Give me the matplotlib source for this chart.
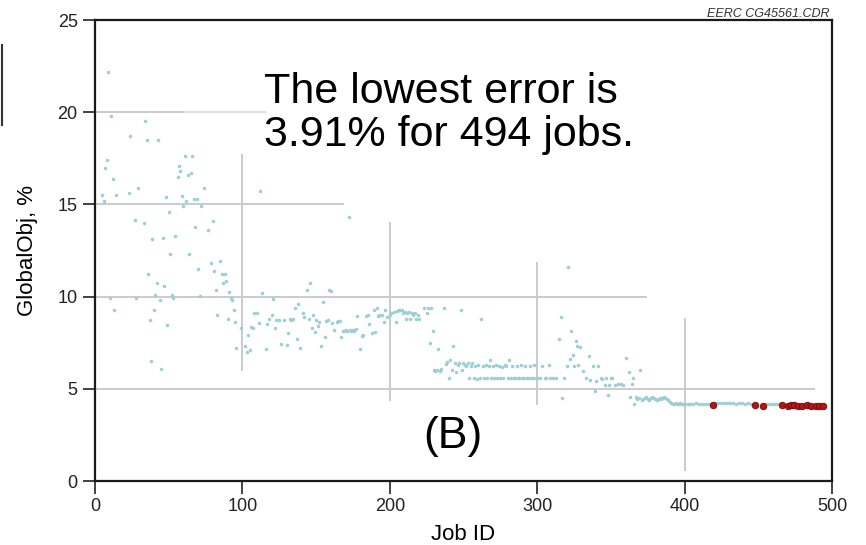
import matplotlib.pyplot as plt
from matplotlib.lines import Line2D

plt.rcParams["font.family"] = ["Liberation Sans", "DejaVu Sans"]

# -----------------------
# Data
# -----------------------
jobs_a = [5, 6, 7, 8, 9, 10, 11, 12, 13, 14, 23, 24, 27, 28, 29, 33, 34, 35, 36, 37,
          38, 39, 40, 41, 42, 43, 44, 45, 46, 47, 48, 49, 50, 51, 52, 53, 54, 56, 57, 58,
          59, 60, 61, 62, 63, 64, 65, 66, 67, 68, 69, 70, 71, 72, 74, 77, 79, 80, 81, 82,
          83, 85, 86, 87, 88, 89, 90, 91, 92, 93, 94, 95, 96, 99]
vals_a = [15.5, 15.2, 17.0, 17.4, 22.2, 9.95, 19.8, 16.4, 9.3, 15.5, 15.6, 18.7, 14.15, 9.95, 15.9,
          14.0, 19.5, 18.5, 11.2, 8.75, 6.5, 13.1, 9.3, 10.1, 10.75, 18.5, 9.8, 6.05, 13.2, 10.6,
          15.4, 8.45, 14.6, 12.3, 10.1, 9.95, 13.3, 16.5, 17.1, 16.8, 15.45, 14.9, 17.6, 15.2, 16.6,
          12.3, 16.7, 17.6, 15.3, 13.8, 15.3, 11.5, 10.05, 14.9, 15.9, 13.6, 11.8, 14.1, 11.4, 10.35,
          9.0, 11.95, 11.2, 10.75, 11.2, 10.85, 8.8, 10.25, 9.9, 9.8, 9.3, 8.6, 7.2, 8.3]

jobs_b = [102, 103, 104, 105, 106, 107, 108, 110, 111, 112, 113, 116, 117, 118, 120, 121, 122, 123,
          125, 126, 128, 130, 131, 132, 133, 134, 136, 137, 138, 139, 141, 142, 144, 145, 146, 147,
          148, 149, 150, 151, 152, 153, 155, 156, 157, 158, 159, 160, 161, 162, 164, 165, 166, 167,
          168, 169, 170, 171, 172, 173, 174, 175, 176, 177, 178, 180, 181, 182, 184, 185, 186, 188,
          189, 190, 191, 192, 193, 195, 196, 197, 198, 200]
vals_b = [7.3, 7.0, 7.9, 7.1, 8.35, 8.3, 9.1, 9.1, 8.55, 15.75, 10.2, 7.15, 8.5, 8.77, 9.0, 9.85,
          8.3, 8.73, 8.75, 7.45, 8.73, 7.4, 8.05, 8.8, 8.73, 8.8, 9.4, 7.68, 9.6, 7.2, 9.1, 8.9,
          10.35, 8.8, 10.75, 8.3, 9.0, 8.07, 8.75, 8.4, 8.6, 7.3, 9.7, 7.8, 8.7, 8.73, 10.35, 10.3,
          8.55, 8.2, 8.6, 8.7, 8.7, 7.83, 8.15, 8.15, 8.2, 8.15, 14.3, 8.2, 8.15, 8.2, 8.15, 8.24,
          8.95, 7.15, 7.86, 7.9, 8.97, 9.0, 8.5, 8.0, 9.3, 8.06, 9.37, 8.97, 9.0, 9.0, 8.6, 9.3,
          8.9, 9.0]

jobs_c = [201, 203, 204, 205, 206, 207, 208, 209, 210, 211, 212, 213, 214, 215, 216, 217, 218, 219,
          220, 223, 225, 226, 227, 228, 229, 230, 231, 232, 233, 234, 235, 237, 238, 239, 240, 241,
          242, 243, 244, 245, 246, 247, 248, 249, 250, 251, 252, 253, 254, 255, 256, 257, 258, 259,
          260, 261, 262, 263, 264, 265, 266, 267, 268, 269, 270, 271, 272, 273, 274, 275, 276, 277,
          278, 279, 280, 281, 282, 283, 284, 285, 286, 287, 288, 289, 290, 291, 292, 293, 294, 295,
          296, 297, 298, 299, 300]
vals_c = [9.1, 9.15, 8.64, 9.2, 9.27, 9.25, 9.27, 9.1, 9.15, 8.8, 9.1, 9.15, 8.8, 9.1, 9.0, 9.1,
          8.8, 9.0, 8.8, 9.36, 9.13, 9.4, 7.47, 9.36, 8.15, 6.0, 5.97, 6.0, 7.15, 5.97, 6.1, 9.36,
          6.35, 6.47, 5.57, 6.55, 6.0, 7.3, 6.4, 5.9, 6.3, 6.4, 9.3, 6.0, 6.4, 6.3, 6.24, 6.4, 5.6,
          6.24, 6.4, 5.57, 6.24, 5.53, 6.3, 5.57, 8.77, 6.24, 5.57, 6.3, 5.6, 6.24, 6.56, 5.57, 6.24,
          5.57, 6.3, 5.6, 6.24, 5.57, 6.2, 5.57, 6.3, 6.24, 5.57, 6.56, 5.57, 6.24, 5.6, 5.57, 6.24,
          5.57, 5.57, 6.3, 5.57, 5.6, 6.24, 5.57, 5.57, 6.24, 5.6, 5.57, 6.3, 5.57, 5.57]

jobs_d = [302, 303, 305, 306, 308, 309, 311, 313, 315, 316, 317, 318, 320, 321, 322, 323, 324, 325,
          326, 327, 328, 329, 331, 333, 335, 336, 338, 339, 340, 341, 343, 344, 346, 347, 348, 349,
          350, 351, 353, 355, 357, 358, 360, 362, 363, 364, 365, 366, 367, 368, 369, 370, 371, 372,
          373, 374, 375, 376, 377, 378, 379, 380, 381, 382, 383, 384, 385, 386, 387, 388, 389, 390,
          391, 392, 393, 394, 395, 396, 397, 398, 399, 400]
vals_d = [5.6, 6.24, 5.57, 5.6, 6.3, 5.57, 5.57, 5.6, 7.68, 8.9, 4.5, 5.57, 6.24, 11.6, 6.6, 8.13,
          6.85, 6.24, 7.6, 7.3, 6.3, 7.28, 5.97, 5.57, 6.78, 5.5, 6.24, 4.9, 5.42, 6.24, 5.57, 5.55,
          5.2, 5.57, 4.66, 5.2, 5.57, 5.57, 5.2, 5.24, 5.24, 5.2, 6.65, 5.93, 4.57, 5.25, 5.57, 4.2,
          4.57, 4.45, 4.5, 6.02, 4.4, 4.45, 4.5, 4.55, 4.45, 4.4, 4.5, 4.55, 4.5, 4.45, 4.4, 4.45,
          4.5, 4.45, 4.5, 4.55, 4.5, 4.45, 4.4, 4.3, 4.25, 4.2, 4.2, 4.22, 4.2, 4.2, 4.22, 4.2, 4.2,
          4.2]

jobs_e = [402, 404, 406, 408, 410, 412, 414, 416, 418, 421, 423, 425, 427, 429, 431, 433, 435, 437,
          439, 441, 443, 445, 455, 457, 459, 461, 463]
vals_e = [4.2, 4.18, 4.2, 4.22, 4.18, 4.2, 4.2, 4.18, 4.2, 4.22, 4.25, 4.22, 4.25, 4.22, 4.25,
          4.22, 4.2, 4.22, 4.25, 4.2, 4.22, 4.2, 4.2, 4.18, 4.2, 4.2, 4.18]

# best jobs (red)
best_jobs = [419, 448, 453, 466, 470, 472, 474, 477, 480, 483, 486, 489, 491, 494]
best_vals = [4.1, 4.1, 4.08, 4.1, 4.08, 4.1, 4.1, 4.08, 4.08, 4.1, 4.08, 4.08, 4.08, 4.06]

x_ticks = [0, 100, 200, 300, 400, 500]
y_ticks = [0, 5, 10, 15, 20, 25]

# -----------------------
# Plot
# -----------------------
fig = plt.figure(figsize=(8.66, 5.45), dpi=100)
ax = fig.add_axes([0.1097, 0.1174, 0.851, 0.8459])

grid_c = "#cbcbcb"
# partial grid lines as drawn in the original
ax.plot([0, 115], [20, 20], color="#dedede", lw=1.4, zorder=1)
ax.plot([0, 60], [20, 20], color=grid_c, lw=1.4, zorder=1)
ax.plot([0, 168], [15, 15], color=grid_c, lw=1.4, zorder=1)
ax.plot([0, 374], [10, 10], color=grid_c, lw=1.4, zorder=1)
ax.plot([0, 488], [5, 5], color=grid_c, lw=1.4, zorder=1)
ax.plot([100, 100], [6.0, 17.7], color=grid_c, lw=1.4, zorder=1)
ax.plot([200, 200], [4.4, 14.0], color=grid_c, lw=1.4, zorder=1)
ax.plot([300, 300], [4.2, 11.8], color=grid_c, lw=1.4, zorder=1)
ax.plot([400, 400], [0.6, 8.8], color=grid_c, lw=1.4, zorder=1)

cyan = "#95d6db"
for jj, vv in [(jobs_a, vals_a), (jobs_b, vals_b), (jobs_c, vals_c),
               (jobs_d, vals_d), (jobs_e, vals_e)]:
    ax.scatter(jj, vv, s=5, color=cyan, edgecolors="#a9c4c6", linewidths=0.3, zorder=3)

ax.scatter(best_jobs, best_vals, s=22, color="#b51515", edgecolors="#6a0a0a",
           linewidths=0.6, zorder=4)

ax.text(0.229, 0.888, "The lowest error is\n3.91% for 494 jobs.", transform=ax.transAxes,
        fontsize=31, va="top", ha="left", color="black", linespacing=1.12)
ax.text(243, 2.4, "(B)", fontsize=32, ha="center", va="center")

ax.set_xlim(0, 500)
ax.set_ylim(0, 25)
ax.set_xticks(x_ticks)
ax.set_yticks(y_ticks)
ax.tick_params(direction="out", length=9, width=1.2, labelsize=13, colors="#222222")
for s in ax.spines.values():
    s.set_linewidth(1.6)
    s.set_color("#1a1a1a")

ax.set_xlabel("Job ID", fontsize=16, labelpad=6)
ax.set_ylabel("GlobalObj, %", fontsize=16, labelpad=14)

fig.text(0.958, 0.975, "EERC CG45561.CDR", fontsize=9, style="italic", ha="right",
         va="center", color="#333333")
fig.add_artist(Line2D([0.002, 0.002], [0.771, 0.917], color="#333333", lw=1.5))

plt.savefig("out.png", dpi=100)
plt.close()
